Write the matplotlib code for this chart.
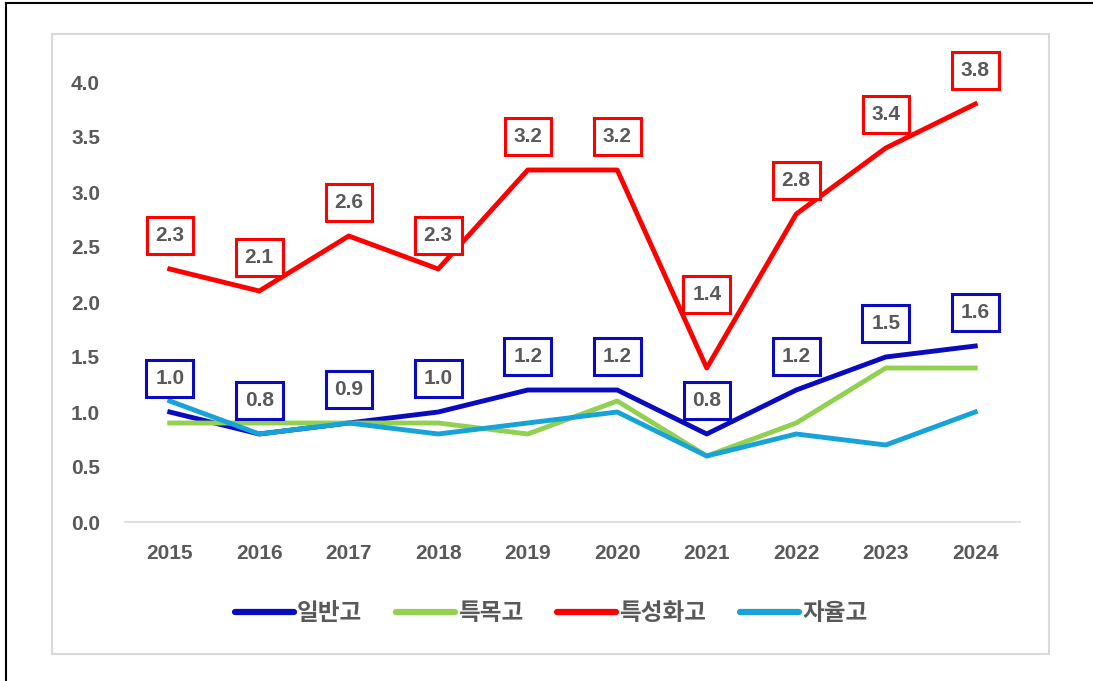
import matplotlib as mpl
import matplotlib.pyplot as plt
from matplotlib.lines import Line2D
from matplotlib.patches import Rectangle

plt.rcParams['font.family'] = ['Liberation Sans', 'Noto Sans CJK KR', 'DejaVu Sans']

years = ['2015', '2016', '2017', '2018', '2019', '2020', '2021', '2022', '2023', '2024']
series_names = ['일반고', '특목고', '특성화고', '자율고']
general    = [1.0, 0.8, 0.9, 1.0, 1.2, 1.2, 0.8, 1.2, 1.5, 1.6]
special    = [0.9, 0.9, 0.9, 0.9, 0.8, 1.1, 0.6, 0.9, 1.4, 1.4]
vocational = [2.3, 2.1, 2.6, 2.3, 3.2, 3.2, 1.4, 2.8, 3.4, 3.8]
autonomous = [1.1, 0.8, 0.9, 0.8, 0.9, 1.0, 0.6, 0.8, 0.7, 1.0]
y_ticks = [0.0, 0.5, 1.0, 1.5, 2.0, 2.5, 3.0, 3.5, 4.0]

colors = ['#0A0ABE', '#92D050', '#FF0000', '#17A2D8']
gray = '#595959'

fig = plt.figure(figsize=(10.93, 6.81), dpi=100)

# outer black frame + inner light-gray chart box
fig.add_artist(Line2D([6/1093, 6/1093], [0, 1 - 3/681], color='black', lw=1.5))
fig.add_artist(Line2D([6/1093, 1], [1 - 3/681, 1 - 3/681], color='black', lw=1.5))
fig.add_artist(Rectangle((52/1093, 1 - 654/681), (1049 - 52)/1093, (654 - 34)/681,
                         transform=fig.transFigure, fill=False, edgecolor='#D9D9D9', lw=1.5))

ax = fig.add_axes([125/1093, 1 - 522/681, (1020 - 125)/1093, (522 - 82)/681])
x = list(range(len(years)))

all_series = [general, special, vocational, autonomous]
for name, vals, c in zip(series_names, all_series, colors):
    ax.plot(x, vals, color=c, lw=3.5, label=name, clip_on=False)

# boxed value labels for 특성화고 and 일반고 (the 2021 red one sits higher, inside the dip)
for vals, c, lifted in [(vocational, colors[2], {6: 53}), (general, colors[0], {})]:
    for xi, v in zip(x, vals):
        ax.annotate(f'{v:.1f}', (xi, v), xytext=(0, lifted.get(xi, 24)), textcoords='offset points',
                    ha='center', va='center', fontsize=15, fontweight='bold', color=gray,
                    bbox=dict(boxstyle='square,pad=0.42', fc='white', ec=c, lw=2.2),
                    annotation_clip=False, zorder=5)

ax.set_xlim(-0.5, len(years) - 0.5)
ax.set_ylim(0, 4.0)
ax.set_xticks(x)
ax.set_xticklabels(years)
ax.set_yticks(y_ticks)
ax.set_yticklabels([f'{t:.1f}' for t in y_ticks])
ax.tick_params(length=0, labelsize=15, labelcolor=gray)
ax.tick_params(axis='x', pad=16)
ax.tick_params(axis='y', pad=18)
for lab in ax.get_xticklabels() + ax.get_yticklabels():
    lab.set_fontweight('bold')
for s in ['top', 'right', 'left']:
    ax.spines[s].set_visible(False)
ax.spines['bottom'].set_color('#D9D9D9')
ax.spines['bottom'].set_linewidth(1.2)

leg = fig.legend(loc='center', bbox_to_anchor=(551/1093, 1 - 613/681), ncol=4, frameon=False,
                 fontsize=17, handlelength=2.5, handletextpad=0.12, columnspacing=1.45)
for h in leg.get_lines():
    h.set_linewidth(4.5)
    h.set_solid_capstyle('round')
for t in leg.get_texts():
    t.set_color(gray)
    t.set_family(['Noto Sans CJK KR', 'DejaVu Sans'])
    t.set_fontweight('bold')

fig.savefig('out.png', dpi=100)
